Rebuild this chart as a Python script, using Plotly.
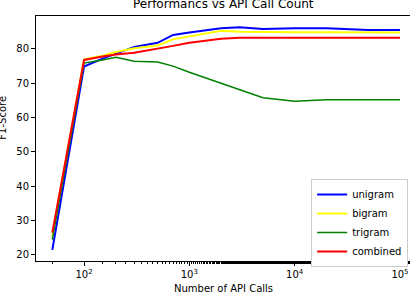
import plotly.graph_objects as go

api_calls = [50, 100, 150, 200, 300, 500, 700, 1000, 2000, 3000, 5000, 10000, 20000, 50000, 100000]
unigram = [21.5, 74.9, 77.2, 78.7, 80.6, 81.8, 84.1, 84.8, 86.0, 86.3, 85.8, 86.0, 86.0, 85.5, 85.5]
bigram = [25.5, 77.0, 78.0, 79.1, 80.2, 81.0, 82.8, 83.6, 85.3, 85.0, 84.9, 84.9, 84.9, 84.8, 84.8]
trigram = [24.5, 75.9, 76.8, 77.6, 76.4, 76.2, 75.0, 73.2, 70.0, 68.2, 65.8, 64.8, 65.2, 65.2, 65.2]
combined = [26.5, 76.8, 77.8, 78.4, 78.9, 80.0, 80.9, 81.8, 83.0, 83.3, 83.3, 83.3, 83.3, 83.3, 83.3]

series_names = ["unigram", "bigram", "trigram", "combined"]
series_values = [unigram, bigram, trigram, combined]
series_colors = ["#0000ff", "#ffff00", "#008000", "#ff0000"]
series_widths = [2, 2, 1.5, 2]

x_tickvals = [100, 1000, 10000, 100000]
x_ticktext = ["10<sup>2</sup>", "10<sup>3</sup>", "10<sup>4</sup>", "10<sup>5</sup>"]
y_tickvals = [20, 30, 40, 50, 60, 70, 80]

title_text = "Performancs vs API Call Count"
x_title = "Number of API Calls"
y_title = "F1-Score"

FONT = "DejaVu Sans"

fig = go.Figure()
for name, vals, col, w in zip(series_names, series_values, series_colors, series_widths):
    fig.add_trace(go.Scatter(x=api_calls, y=vals, mode="lines", name=name,
                             line=dict(color=col, width=w)))

fig.update_layout(
    width=410, height=294,
    margin=dict(l=36, r=0, t=16, b=33, autoexpand=False),
    paper_bgcolor="white", plot_bgcolor="white",
    font=dict(family=FONT, size=10, color="black"),
    showlegend=True,
    legend=dict(x=0.995, y=0.335, xanchor="right", yanchor="top",
                bgcolor="white", bordercolor="#cccccc", borderwidth=1,
                font=dict(size=10, family=FONT), tracegroupgap=0),
    xaxis=dict(type="log", range=[1.544, 5.095], tickvals=x_tickvals, ticktext=x_ticktext,
               automargin=False,
               showgrid=False, zeroline=False, showline=True, linecolor="black", linewidth=1,
               mirror=True, ticks="outside", ticklen=4, tickcolor="black",
               minor=dict(ticks="outside", ticklen=2, tickcolor="black", showgrid=False)),
    yaxis=dict(range=[18.25, 89.6], tickvals=y_tickvals, automargin=False,
               showgrid=False, zeroline=False, showline=True, linecolor="black", linewidth=1,
               ticks="outside", ticklen=4, tickcolor="black"),
    annotations=[
        dict(text=title_text, xref="paper", yref="paper", x=0.5, y=1.049,
             xanchor="center", yanchor="middle", showarrow=False,
             font=dict(size=12, family=FONT, color="black")),
        dict(text=x_title, xref="paper", yref="paper", x=0.5, y=-0.114,
             xanchor="center", yanchor="middle", showarrow=False,
             font=dict(size=10, family=FONT, color="black")),
        dict(text=y_title, xref="paper", yref="paper", x=-0.089, y=0.584,
             xanchor="center", yanchor="middle", showarrow=False, textangle=-90,
             font=dict(size=10, family=FONT, color="black")),
    ],
)

fig.write_html("out.html", config={"displayModeBar": False},
               post_script="document.body.style.margin='0';document.body.style.overflow='hidden';")
